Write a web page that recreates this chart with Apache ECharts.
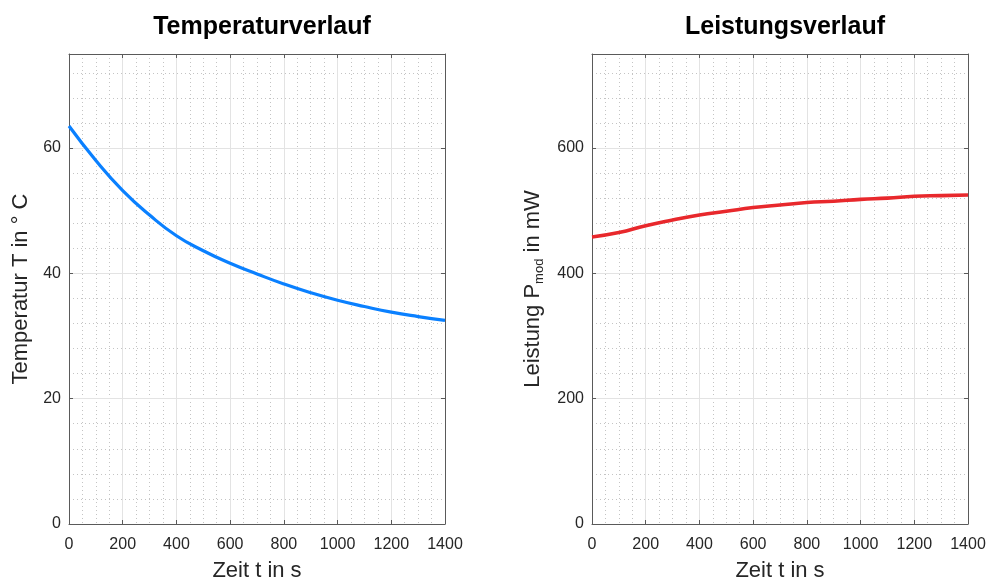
<!DOCTYPE html>
<html>
<head>
<meta charset="utf-8">
<script src="https://cdn.jsdelivr.net/npm/echarts@6/dist/echarts.min.js"></script>
<style>
  html, body { margin: 0; padding: 0; background: #fff; }
  #chart { width: 989px; height: 578px; }
</style>
</head>
<body>
<div id="chart"></div>
<script>
// Zeit in s (Stützstellen)
const zeit = [0, 100, 200, 300, 400, 500, 600, 700, 800, 900, 1000, 1100, 1200, 1300, 1400]
// Temperatur in °C
const temperatur = [63.5, 58.0, 53.2, 49.3, 46.0, 43.6, 41.6, 39.9, 38.3, 36.9, 35.7, 34.7, 33.8, 33.1, 32.5]
// Leistung P_mod in mW
const leistung = [458, 465, 476, 485, 493, 499, 505, 509, 513, 515, 518, 520, 523, 524, 525]

const titel = ['Temperaturverlauf', 'Leistungsverlauf']
const yMax = [75, 750]
const yStep = [20, 200]
const yMinor = [4, 40]

const font = 'Liberation Sans, Arial, Helvetica, sans-serif'
const txt = '#262626'
const frame = '#5a5a5a'

const grids = [
  { left: 69, top: 54, width: 376, height: 470, outerBoundsMode: 'none' },
  { left: 592, top: 54, width: 376, height: 470, outerBoundsMode: 'none' }
]

const xAxes = []
const yAxes = []
grids.forEach((g, i) => {
  // Hauptachse unten
  xAxes.push({
    type: 'value', gridIndex: i, position: 'bottom', min: 0, max: 1400, interval: 200, z: 3,
    name: 'Zeit t in s', nameLocation: 'middle', nameGap: 36,
    nameTextStyle: { fontFamily: font, fontSize: 22, color: txt },
    axisLine: { show: true, onZero: false, lineStyle: { color: frame, width: 1 } },
    axisTick: { show: true, inside: true, length: 4, lineStyle: { color: frame } },
    axisLabel: { fontFamily: font, fontSize: 16, color: txt, margin: 13, formatter: v => String(v) },
    splitLine: { show: true, lineStyle: { color: '#e3e3e3', width: 1 } }
  })
  // Rahmen oben
  xAxes.push({
    type: 'value', gridIndex: i, position: 'top', min: 0, max: 1400, interval: 200, z: 3,
    axisLine: { show: true, onZero: false, lineStyle: { color: frame, width: 1 } },
    axisTick: { show: true, inside: true, length: 4, lineStyle: { color: frame } },
    axisLabel: { show: false }, splitLine: { show: false }
  })
  // Nebengitter x
  xAxes.push({
    type: 'value', gridIndex: i, min: 0, max: 1400, interval: 50, z: 1,
    axisLine: { show: false }, axisTick: { show: false }, axisLabel: { show: false },
    splitLine: { show: true, lineStyle: { color: '#c4c4c4', width: 1, type: [1, 3] } }
  })

  const yName = i === 0
    ? 'Temperatur T in ° C'
    : 'Leistung P{sub|mod} in mW'
  yAxes.push({
    type: 'value', gridIndex: i, position: 'left', min: 0, max: yMax[i], interval: yStep[i], z: 3,
    name: yName, nameLocation: 'middle', nameGap: i === 0 ? 35 : 46,
    nameTextStyle: {
      fontFamily: font, fontSize: 22, color: txt, lineHeight: 26,
      rich: { sub: { fontFamily: font, fontSize: 13, color: txt, verticalAlign: 'bottom', lineHeight: 15 } }
    },
    axisLine: { show: true, onZero: false, lineStyle: { color: frame, width: 1 } },
    axisTick: { show: true, inside: true, length: 4, lineStyle: { color: frame } },
    axisLabel: { fontFamily: font, fontSize: 16, color: txt, margin: 8, showMaxLabel: false },
    splitLine: { show: true, lineStyle: { color: '#e3e3e3', width: 1 } }
  })
  // Rahmen rechts
  yAxes.push({
    type: 'value', gridIndex: i, position: 'right', min: 0, max: yMax[i], interval: yStep[i], z: 3,
    axisLine: { show: true, onZero: false, lineStyle: { color: frame, width: 1 } },
    axisTick: { show: true, inside: true, length: 4, lineStyle: { color: frame } },
    axisLabel: { show: false }, splitLine: { show: false }
  })
  // Nebengitter y
  yAxes.push({
    type: 'value', gridIndex: i, min: 0, max: yMax[i], interval: yMinor[i], z: 1,
    axisLine: { show: false }, axisTick: { show: false }, axisLabel: { show: false },
    splitLine: { show: true, lineStyle: { color: '#c4c4c4', width: 1, type: [1, 3] } }
  })
})

const chart = echarts.init(document.getElementById('chart'), null, { renderer: 'canvas' })
chart.setOption({
  animation: false,
  backgroundColor: '#fff',
  title: titel.map((t, i) => ({
    text: t,
    left: grids[i].left + grids[i].width / 2,
    top: 10,
    textAlign: 'center',
    textStyle: { fontFamily: font, fontSize: 25, fontWeight: 'bold', color: '#000' }
  })),
  grid: grids,
  xAxis: xAxes,
  yAxis: yAxes,
  series: [
    {
      type: 'line', xAxisIndex: 0, yAxisIndex: 0, smooth: true, showSymbol: false,
      lineStyle: { color: '#0a80ff', width: 3.2 },
      data: zeit.map((t, k) => [t, temperatur[k]])
    },
    {
      type: 'line', xAxisIndex: 3, yAxisIndex: 3, smooth: true, showSymbol: false,
      lineStyle: { color: '#e8282c', width: 3.6 },
      data: zeit.map((t, k) => [t, leistung[k]])
    }
  ]
})
</script>
</body>
</html>
